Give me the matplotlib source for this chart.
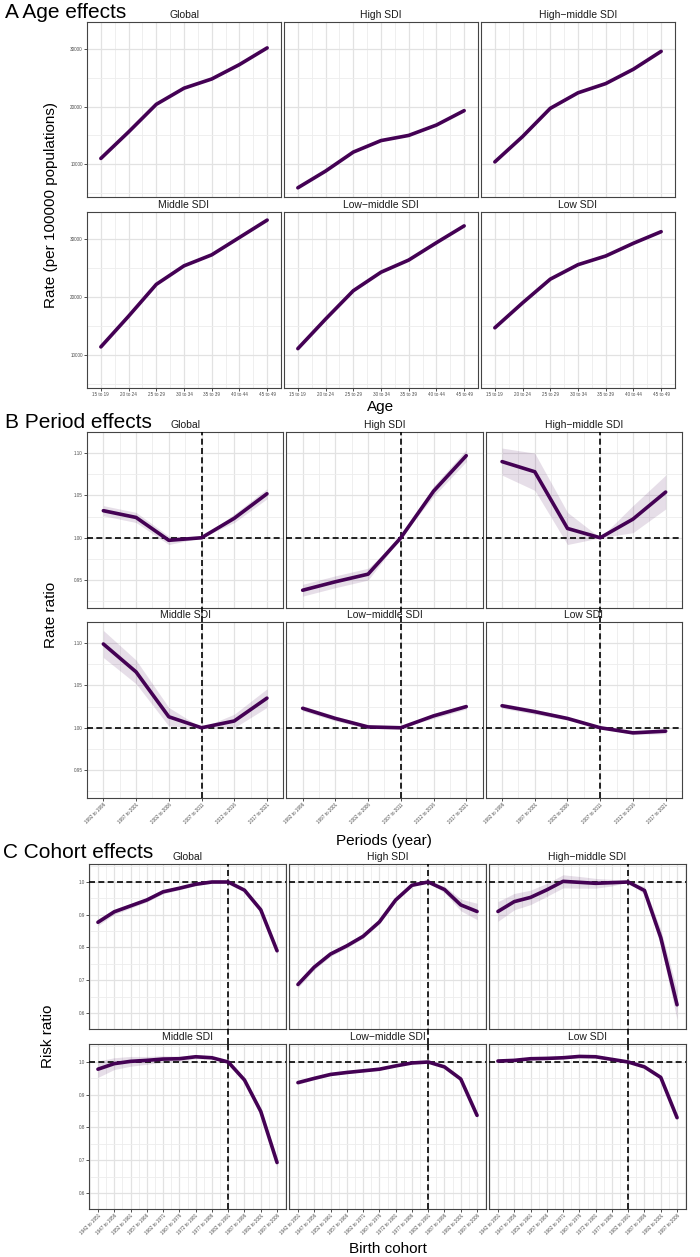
import matplotlib
matplotlib.use("Agg")
import matplotlib.pyplot as plt
import numpy as np

plt.rcParams['font.family'] = ['Liberation Sans', 'DejaVu Sans']

regions = ["Global", "High SDI", "High\u2212middle SDI",
           "Middle SDI", "Low\u2212middle SDI", "Low SDI"]

# ---- A: age effects (rate per 100000)
age_groups = ["15 to 19", "20 to 24", "25 to 29", "30 to 34", "35 to 39", "40 to 44", "45 to 49"]
age_global = [11000, 15600, 20400, 23200, 24800, 27300, 30200]
age_high = [5900, 8800, 12100, 14100, 15000, 16800, 19300]
age_highmid = [10400, 14800, 19700, 22400, 24000, 26500, 29600]
age_mid = [11400, 16700, 22200, 25400, 27300, 30300, 33300]
age_lowmid = [11100, 16200, 21100, 24300, 26400, 29400, 32300]
age_low = [14700, 19000, 23100, 25600, 27100, 29300, 31300]

# ---- B: period effects (rate ratio) and CI half widths
periods = ["1992 to 1996", "1997 to 2001", "2002 to 2006", "2007 to 2011", "2012 to 2016", "2017 to 2021"]
per_global = [1.032, 1.024, 0.997, 1.000, 1.023, 1.052]
per_high = [0.938, 0.948, 0.957, 1.000, 1.055, 1.097]
per_highmid = [1.090, 1.078, 1.011, 1.000, 1.022, 1.054]
per_mid = [1.099, 1.066, 1.013, 1.000, 1.008, 1.035]
per_lowmid = [1.023, 1.011, 1.001, 1.000, 1.014, 1.025]
per_low = [1.026, 1.019, 1.011, 1.000, 0.994, 0.996]
per_ci_global = [0.006, 0.006, 0.005, 0.0, 0.005, 0.006]
per_ci_high = [0.007, 0.007, 0.007, 0.0, 0.006, 0.007]
per_ci_highmid = [0.016, 0.022, 0.019, 0.0, 0.016, 0.020]
per_ci_mid = [0.016, 0.014, 0.011, 0.0, 0.008, 0.011]
per_ci_lowmid = [0.003, 0.003, 0.002, 0.0, 0.003, 0.003]
per_ci_low = [0.003, 0.003, 0.002, 0.0, 0.002, 0.003]

# ---- C: cohort effects (risk ratio) and CI half widths
cohorts = ["1942 to 1951", "1947 to 1956", "1952 to 1961", "1957 to 1966", "1962 to 1971",
           "1967 to 1976", "1972 to 1981", "1977 to 1986", "1982 to 1991", "1987 to 1996",
           "1992 to 2001", "1997 to 2006"]
coh_global = [0.877, 0.909, 0.927, 0.945, 0.970, 0.981, 0.993, 1.000, 1.000, 0.975, 0.915, 0.790]
coh_high = [0.687, 0.740, 0.780, 0.805, 0.834, 0.878, 0.945, 0.990, 1.000, 0.977, 0.930, 0.910]
coh_highmid = [0.910, 0.940, 0.953, 0.976, 1.002, 0.999, 0.996, 0.998, 1.000, 0.974, 0.830, 0.625]
coh_mid = [0.978, 0.995, 1.002, 1.005, 1.009, 1.010, 1.016, 1.013, 1.000, 0.945, 0.849, 0.693]
coh_lowmid = [0.937, 0.950, 0.962, 0.968, 0.973, 0.978, 0.988, 0.997, 1.000, 0.985, 0.948, 0.837]
coh_low = [1.003, 1.005, 1.010, 1.011, 1.013, 1.017, 1.016, 1.008, 1.000, 0.985, 0.953, 0.830]
coh_ci_global = [0.010, 0.008, 0.007, 0.006, 0.006, 0.005, 0.004, 0.003, 0.0, 0.004, 0.007, 0.010]
coh_ci_high = [0.010, 0.008, 0.007, 0.006, 0.006, 0.006, 0.005, 0.003, 0.0, 0.010, 0.018, 0.025]
coh_ci_highmid = [0.030, 0.025, 0.022, 0.020, 0.020, 0.018, 0.015, 0.010, 0.0, 0.012, 0.025, 0.045]
coh_ci_mid = [0.025, 0.018, 0.015, 0.012, 0.010, 0.008, 0.006, 0.004, 0.0, 0.006, 0.010, 0.015]
coh_ci_lowmid = [0.005, 0.004, 0.004, 0.003, 0.003, 0.003, 0.002, 0.002, 0.0, 0.002, 0.004, 0.006]
coh_ci_low = [0.005, 0.004, 0.004, 0.003, 0.003, 0.003, 0.002, 0.002, 0.0, 0.002, 0.004, 0.006]

W, H = 700, 1257
LINE = '#440154'
fig = plt.figure(figsize=(W / 100, H / 100), dpi=100)


def box(l, t, r, b):
    return [l / W, 1 - b / H, (r - l) / W, (b - t) / H]


def section(lefts, width, rows, labels, values, cis, ylim, yticks, ytick_labels,
            minor_step, rot, vref=None):
    n = len(labels)
    x = np.arange(n)
    gap = rows[1][0] - rows[0][1]
    for i, name in enumerate(regions):
        r, c = divmod(i, 3)
        top, bottom = rows[r]
        ax = fig.add_axes(box(lefts[c], top, lefts[c] + width, bottom))
        ax.set_xlim(-0.05 * (n - 1), 1.05 * (n - 1))
        ax.set_ylim(ylim)
        ax.set_xticks(x)
        ax.set_xticks(np.arange(-0.5, n, 1.0), minor=True)
        ax.set_yticks(yticks)
        ym = np.arange(yticks[0] - minor_step, yticks[-1] + 2 * minor_step, minor_step)
        ax.set_yticks([v for v in ym if ylim[0] < v < ylim[1] and
                       min(abs(v - t) for t in yticks) > minor_step / 2], minor=True)
        ax.grid(which='major', color='#e2e2e2', lw=0.9)
        ax.grid(which='minor', color='#ededed', lw=0.6)
        ax.set_axisbelow(True)
        ax.tick_params(which='minor', length=0)
        ax.tick_params(which='major', length=2, width=0.6, color='#333333',
                       labelsize=3.3, labelcolor='#4d4d4d', pad=1)
        if r == 1:
            if rot:
                ax.set_xticklabels(labels, rotation=45, ha='right', rotation_mode='anchor')
            else:
                ax.set_xticklabels(labels)
        else:
            ax.tick_params(axis='x', bottom=False, labelbottom=False)
        if c == 0:
            ax.set_yticklabels(ytick_labels)
        else:
            ax.tick_params(axis='y', left=False, labelleft=False)
        for s in ax.spines.values():
            s.set_color('#444444')
            s.set_linewidth(0.8)
        v = np.array(values[i])
        if cis is not None:
            e = np.array(cis[i])
            ax.fill_between(x, v - e, v + e, color=LINE, alpha=0.13, lw=0)
        if vref is not None:
            ax.axhline(1.0, color='black', lw=1.2, dashes=(3.6, 2.0), zorder=3)
            ext = gap / (bottom - top) if r == 0 else 0
            ax.axvline(vref, ymin=-ext, ymax=1, color='black', lw=1.2,
                       dashes=(3.6, 2.0), zorder=3, clip_on=False)
        ax.plot(x, v, color=LINE, lw=2.6, solid_capstyle='round', zorder=4)
        ax.set_title(name, fontsize=7.5, pad=3, color='#1a1a1a')


def ftext(x, y, s, **kw):
    fig.text(x / W, 1 - y / H, s, **kw)


# A
section([87, 284, 481], 194, [(22, 197), (212, 388)], age_groups,
        [age_global, age_high, age_highmid, age_mid, age_lowmid, age_low], None,
        (4300, 34700), [10000, 20000, 30000], ["10000", "20000", "30000"], 5000, False)
ftext(5, 18, "A Age effects", fontsize=15, va='baseline')
ftext(51, 205, "Rate (per 100000 populations)", fontsize=11, rotation=90, ha='center', va='center')
ftext(381, 407, "Age", fontsize=11, ha='center', va='center')

# B
section([87, 286.3, 485.7], 196.3, [(432, 608), (622, 798)], periods,
        [per_global, per_high, per_highmid, per_mid, per_lowmid, per_low],
        [per_ci_global, per_ci_high, per_ci_highmid, per_ci_mid, per_ci_lowmid, per_ci_low],
        (0.917, 1.125), [0.95, 1.00, 1.05, 1.10], ["0.95", "1.00", "1.05", "1.10"], 0.025,
        True, vref=3)
ftext(5, 428, "B Period effects", fontsize=15, va='baseline')
ftext(51, 615, "Rate ratio", fontsize=11, rotation=90, ha='center', va='center')
ftext(384, 841, "Periods (year)", fontsize=11, ha='center', va='center')

# C
section([89, 289, 489], 197, [(864, 1029), (1044, 1209)], cohorts,
        [coh_global, coh_high, coh_highmid, coh_mid, coh_lowmid, coh_low],
        [coh_ci_global, coh_ci_high, coh_ci_highmid, coh_ci_mid, coh_ci_lowmid, coh_ci_low],
        (0.551, 1.055), [0.6, 0.7, 0.8, 0.9, 1.0], ["0.6", "0.7", "0.8", "0.9", "1.0"], 0.05,
        True, vref=8)
ftext(3, 858, "C Cohort effects", fontsize=15, va='baseline')
ftext(48, 1036, "Risk ratio", fontsize=11, rotation=90, ha='center', va='center')
ftext(388, 1249, "Birth cohort", fontsize=11, ha='center', va='center')

plt.savefig("out.png", dpi=100)
